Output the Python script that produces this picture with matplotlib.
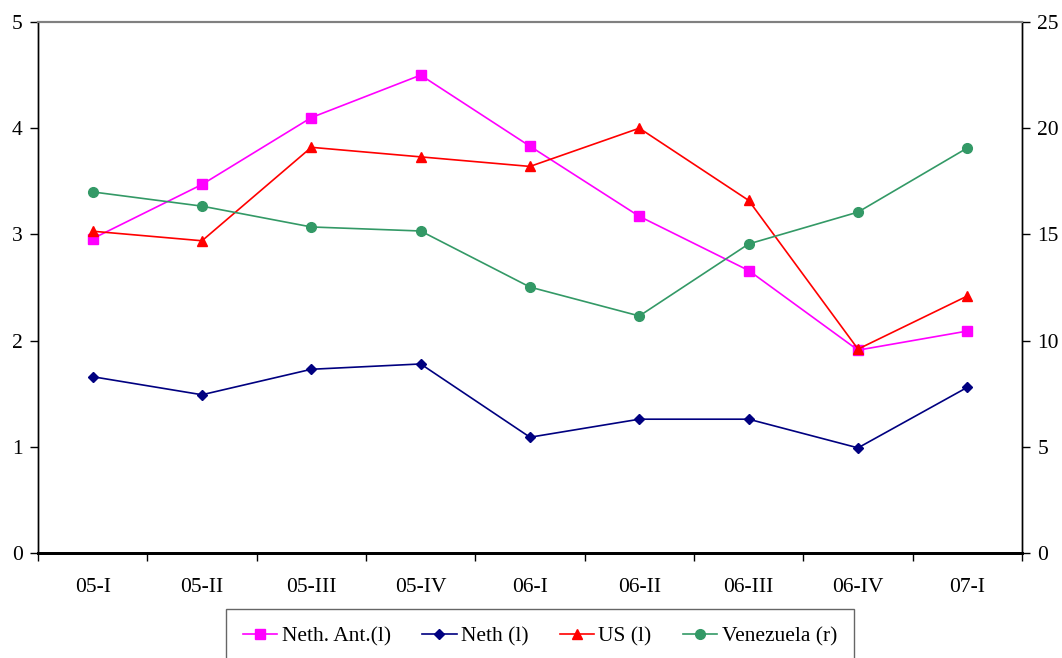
import matplotlib
matplotlib.use("Agg")
import matplotlib.pyplot as plt

plt.rcParams["font.family"] = ["Liberation Serif", "DejaVu Serif"]

# ---------------------------------------------------------
# Data
# ---------------------------------------------------------
quarters = ["05-I", "05-II", "05-III", "05-IV", "06-I", "06-II", "06-III", "06-IV", "07-I"]

neth_ant = [2.96, 3.47, 4.10, 4.50, 3.83, 3.17, 2.66, 1.91, 2.09]
neth = [1.66, 1.49, 1.73, 1.78, 1.09, 1.26, 1.26, 0.99, 1.56]
us = [3.03, 2.94, 3.82, 3.73, 3.64, 4.00, 3.32, 1.92, 2.42]
venezuela = [17.0, 16.33, 15.35, 15.16, 12.52, 11.16, 14.55, 16.05, 19.07]

left_ticks = [0, 1, 2, 3, 4, 5]
right_ticks = [0, 5, 10, 15, 20, 25]

# ---------------------------------------------------------
# Figure
# ---------------------------------------------------------
W, H = 1062, 658
FS = 15.5
fig = plt.figure(figsize=(W / 100, H / 100), dpi=100)
ax = fig.add_axes([38 / W, 1 - 553 / H, (1022 - 38) / W, (553 - 22) / H])
ax2 = ax.twinx()

x = list(range(len(quarters)))

l1, = ax.plot(x, neth_ant, color="#FF00FF", marker="s", markersize=6.5, lw=1.2,
              label="Neth. Ant.(l)")
l2, = ax.plot(x, neth, color="#000080", marker="D", markersize=5.5, lw=1.2,
              label="Neth (l)")
l3, = ax.plot(x, us, color="#FF0000", marker="^", markersize=7.5, lw=1.2,
              label="US (l)")
l4, = ax2.plot(x, venezuela, color="#339966", marker="o", markersize=7, lw=1.2,
               label="Venezuela (r)")

ax.set_xlim(-0.5, len(quarters) - 0.5)
ax.set_ylim(0, 5)
ax2.set_ylim(0, 25)
ax.set_yticks(left_ticks)
ax2.set_yticks(right_ticks)

# category labels centered, tick marks on boundaries
ax.set_xticks(x)
ax.set_xticklabels(quarters)
ax.set_xticks([i - 0.5 for i in range(len(quarters) + 1)], minor=True)
ax.tick_params(axis="x", which="major", length=0, pad=18, labelsize=FS)
ax.tick_params(axis="x", which="minor", length=6, direction="out", width=1)
ax.tick_params(axis="y", length=6, width=1, pad=5, labelsize=FS)
ax2.tick_params(axis="y", length=6, width=1, pad=5, labelsize=FS)

for a in (ax, ax2):
    a.spines["top"].set_color("#808080")
    a.spines["top"].set_linewidth(1.5)
    a.spines["bottom"].set_linewidth(2)
    a.spines["left"].set_linewidth(1)
    a.spines["right"].set_linewidth(1)

# ---------------------------------------------------------
# Legend (bottom, partly clipped like the original)
# ---------------------------------------------------------
leg = fig.legend(handles=[l1, l2, l3, l4], loc="upper center", ncol=4,
                 bbox_to_anchor=(540 / W, 1 - 609 / H), fontsize=FS,
                 frameon=True, fancybox=False, handlelength=1.6,
                 handletextpad=0.2, columnspacing=1.45, borderpad=0.8,
                 borderaxespad=0)
leg.get_frame().set_edgecolor("#404040")
leg.get_frame().set_linewidth(1)

fig.savefig("out.png", dpi=100)
